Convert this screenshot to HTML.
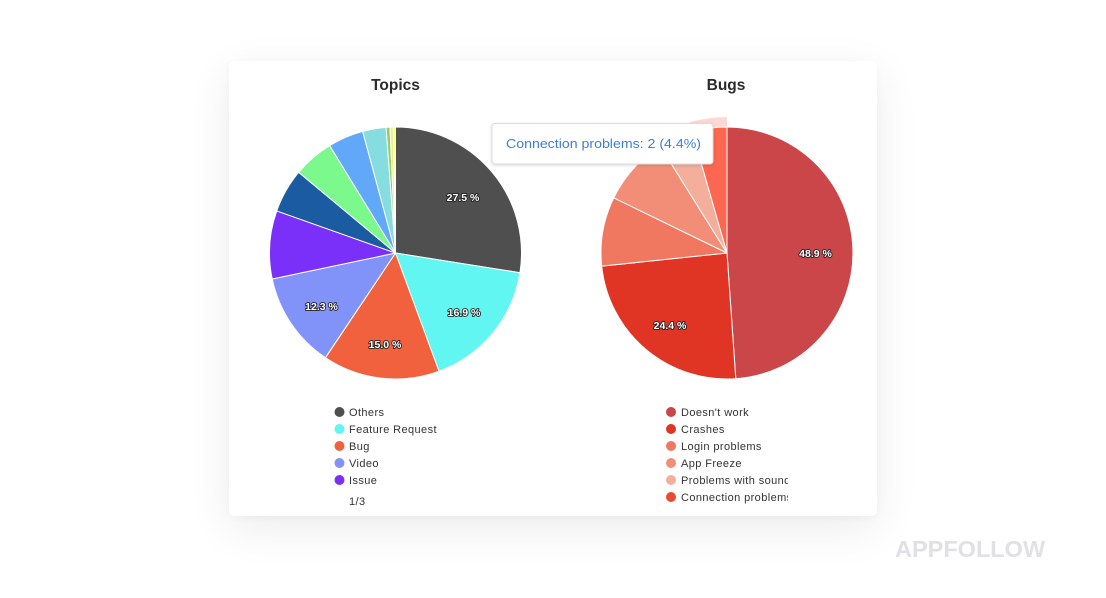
<!DOCTYPE html>
<html>
<head>
<meta charset="utf-8">
<style>
  html, body { margin:0; padding:0; background:#ffffff; }
  body { width:1106px; height:598px; position:relative; overflow:hidden; font-family:"Liberation Sans", sans-serif; }
  .card { position:absolute; left:229px; top:61px; width:648px; height:455px; background:#fff; border-radius:5px;
          box-shadow: 0 12px 44px rgba(0,0,0,0.08), 0 2px 8px rgba(0,0,0,0.03); }
  svg { position:absolute; left:0; top:0; }
  .lbl { font-family:"Liberation Sans", sans-serif; font-size:10.5px; font-weight:bold; fill:#fff; stroke:#222; stroke-width:1.8px; paint-order:stroke; stroke-linejoin:round; }
  .leg { font-family:"Liberation Sans", sans-serif; font-size:11px; fill:#333; letter-spacing:0.4px; }
  .ttl { font-family:"Liberation Sans", sans-serif; font-size:15.5px; font-weight:bold; fill:#2b2b2b; }
  .wm { position:absolute; left:895px; top:535px; font-family:"Liberation Sans", sans-serif; font-weight:bold; font-size:23.5px; color:#dfe1e6; line-height:28px; }
</style>
</head>
<body>
<div class="card"></div>
<svg width="1106" height="598" viewBox="0 0 1106 598" xmlns="http://www.w3.org/2000/svg">
  <defs>
    <clipPath id="legclip"><rect x="660" y="400" width="128" height="110"/></clipPath>
    <filter id="tshadow" x="-10%" y="-30%" width="120%" height="170%">
      <feDropShadow dx="0" dy="1" stdDeviation="1.5" flood-color="#000" flood-opacity="0.15"/>
    </filter>
  </defs>

  <!-- Titles -->
  <text class="ttl" x="395.5" y="90" text-anchor="middle">Topics</text>
  <text class="ttl" x="726" y="90" text-anchor="middle">Bugs</text>

  <!-- Topics pie -->
  <g stroke="#ffffff" stroke-width="1" stroke-linejoin="round">
    <path d="M395.5,253 L395.5,127 A126,126 0 0 1 519.95,272.71 Z" fill="#4f4f4f"/>
    <path d="M395.5,253 L519.95,272.71 A126,126 0 0 1 439.01,371.25 Z" fill="#62f6f3"/>
    <path d="M395.5,253 L439.01,371.25 A126,126 0 0 1 325.41,357.70 Z" fill="#f2613d"/>
    <path d="M395.5,253 L325.41,357.70 A126,126 0 0 1 272.21,278.98 Z" fill="#8193f9"/>
    <path d="M395.5,253 L272.21,278.98 A126,126 0 0 1 276.73,210.94 Z" fill="#7a30f8"/>
    <path d="M395.5,253 L276.73,210.94 A126,126 0 0 1 298.70,172.35 Z" fill="#1a5ba2"/>
    <path d="M395.5,253 L298.70,172.35 A126,126 0 0 1 329.66,145.57 Z" fill="#7cf98c"/>
    <path d="M395.5,253 L329.66,145.57 A126,126 0 0 1 362.68,131.35 Z" fill="#62a8f9"/>
    <path d="M395.5,253 L362.68,131.35 A126,126 0 0 1 386.05,127.35 Z" fill="#86dde0"/>
    <path d="M395.5,253 L386.05,127.35 A126,126 0 0 1 390.0,127.12 Z" fill="#9bcc5e"/>
    <path d="M395.5,253 L390.0,127.12 A126,126 0 0 1 393.30,127.02 Z" fill="#e4f28e"/>
    <path d="M395.5,253 L393.30,127.02 A126,126 0 0 1 395.5,127 Z" fill="#fffb8a"/>
  </g>
  <text class="lbl" x="463" y="201" text-anchor="middle">27.5 %</text>
  <text class="lbl" x="464" y="316" text-anchor="middle">16.9 %</text>
  <text class="lbl" x="385" y="348" text-anchor="middle">15.0 %</text>
  <text class="lbl" x="321.5" y="310" text-anchor="middle">12.3 %</text>

  <!-- Bugs pie -->
  <path d="M727,253 L689.51,122.27 A136,136 0 0 1 727,117 L727,127 A126,126 0 0 0 692.27,131.88 Z" fill="#fd6650" fill-opacity="0.25"/>
  <g stroke="#ffffff" stroke-width="1" stroke-linejoin="round">
    <path d="M727,253 L727,127 A126,126 0 0 1 735.79,378.69 Z" fill="#ca4649"/>
    <path d="M727,253 L735.79,378.69 A126,126 0 0 1 601.69,266.17 Z" fill="#e03424"/>
    <path d="M727,253 L601.69,266.17 A126,126 0 0 1 613.75,197.77 Z" fill="#f07860"/>
    <path d="M727,253 L613.75,197.77 A126,126 0 0 1 660.23,146.15 Z" fill="#f28e78"/>
    <path d="M727,253 L660.23,146.15 A126,126 0 0 1 692.27,131.88 Z" fill="#f4ae9c"/>
    <path d="M727,253 L692.27,131.88 A126,126 0 0 1 727,127 Z" fill="#fd6650"/>
  </g>
  <text class="lbl" x="815.5" y="257" text-anchor="middle">48.9 %</text>
  <text class="lbl" x="670" y="329" text-anchor="middle">24.4 %</text>

  <!-- Left legend -->
  <circle cx="339.5" cy="412" r="5" fill="#4f4f4f"/>
  <text class="leg" x="349" y="416">Others</text>
  <circle cx="339.5" cy="429" r="5" fill="#62f6f3"/>
  <text class="leg" x="349" y="433">Feature Request</text>
  <circle cx="339.5" cy="446" r="5" fill="#f2613d"/>
  <text class="leg" x="349" y="450">Bug</text>
  <circle cx="339.5" cy="463" r="5" fill="#8193f9"/>
  <text class="leg" x="349" y="467">Video</text>
  <circle cx="339.5" cy="480" r="5" fill="#7a30f8"/>
  <text class="leg" x="349" y="484">Issue</text>
  <text class="leg" x="349" y="505">1/3</text>

  <!-- Right legend -->
  <g clip-path="url(#legclip)">
    <circle cx="671" cy="412" r="5" fill="#ca4649"/>
    <text class="leg" x="681" y="416">Doesn't work</text>
    <circle cx="671" cy="429" r="5" fill="#e03424"/>
    <text class="leg" x="681" y="433">Crashes</text>
    <circle cx="671" cy="446" r="5" fill="#f07860"/>
    <text class="leg" x="681" y="450">Login problems</text>
    <circle cx="671" cy="463" r="5" fill="#f28e78"/>
    <text class="leg" x="681" y="467">App Freeze</text>
    <circle cx="671" cy="480" r="5" fill="#f4ae9c"/>
    <text class="leg" x="681" y="484">Problems with sound</text>
    <circle cx="671" cy="497" r="5" fill="#e84c30"/>
    <text class="leg" x="681" y="501">Connection problems</text>
  </g>

  <!-- Tooltip -->
  <rect x="492" y="123.5" width="221" height="40.5" rx="3" ry="3" fill="#ffffff" stroke="#dcdcdc" stroke-width="1" filter="url(#tshadow)"/>
  <text x="506" y="148" font-family="Liberation Sans, sans-serif" font-size="13" fill="#3d7fd6" textLength="195" lengthAdjust="spacingAndGlyphs">Connection problems: 2 (4.4%)</text>
</svg>
<div class="wm">APPFOLLOW</div>
</body>
</html>
